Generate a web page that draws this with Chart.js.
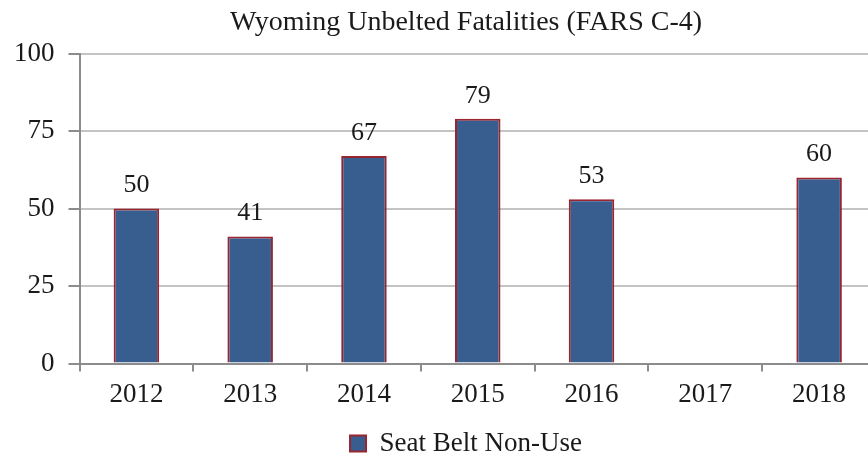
<!DOCTYPE html>
<html>
<head>
<meta charset="utf-8">
<script src="https://cdn.jsdelivr.net/npm/chart.js@4/dist/chart.umd.min.js"></script>
<style>
  html, body { margin: 0; padding: 0; background: #fff; overflow: hidden; }
  #wrap { position: relative; width: 932px; height: 467px; }
</style>
</head>
<body>
<div id="wrap"><canvas id="chart"></canvas></div>
<script>
// Daten
const years = ['2012', '2013', '2014', '2015', '2016', '2017', '2018'];
const unbelted = [50, 41, 67, 79, 53, null, 60];
const yTicks = [0, 25, 50, 75, 100];

const fontFamily = '"Liberation Serif", "Times New Roman", serif';

// Werte über den Balken zeichnen
const barLabels = {
    id: 'barLabels',
    afterDatasetsDraw(chart) {
        const ctx = chart.ctx;
        const meta = chart.getDatasetMeta(0);
        ctx.save();
        ctx.font = '26px ' + fontFamily;
        ctx.fillStyle = '#1a1a1a';
        ctx.textAlign = 'center';
        ctx.textBaseline = 'bottom';
        meta.data.forEach((bar, i) => {
            const v = chart.data.datasets[0].data[i];
            if (v === null) return;
            ctx.fillText(String(v), bar.x, bar.y - 10);
        });
        ctx.restore();
    }
};

new Chart(document.getElementById('chart'), {
    type: 'bar',
    data: {
        labels: years,
        datasets: [{
            label: 'Seat Belt Non-Use',
            data: unbelted,
            backgroundColor: '#375e8f',
            borderColor: '#9a2430',
            borderWidth: 2,
            categoryPercentage: 0.4,
            barPercentage: 1.0
        }]
    },
    options: {
        responsive: true,
        maintainAspectRatio: false,
        animation: false,
        layout: {
            padding: { top: 6, right: 0, left: 0, bottom: 0 }
        },
        plugins: {
            title: {
                display: true,
                text: 'Wyoming Unbelted Fatalities (FARS C-4)',
                color: '#1a1a1a',
                font: { family: fontFamily, size: 28, weight: 'normal' },
                padding: { top: 0, bottom: 14 }
            },
            legend: {
                display: true,
                position: 'bottom',
                labels: {
                    color: '#1a1a1a',
                    font: { family: fontFamily, size: 27 },
                    boxWidth: 16,
                    boxHeight: 16,
                    padding: 12
                }
            },
            tooltip: { enabled: false }
        },
        scales: {
            x: {
                offset: true,
                grid: {
                    display: true,
                    drawOnChartArea: false,
                    offset: true,
                    tickLength: 8,
                    color: '#8c8c8c',
                    lineWidth: 2
                },
                border: { color: '#8c8c8c', width: 2 },
                ticks: {
                    color: '#1a1a1a',
                    font: { family: fontFamily, size: 27 },
                    padding: 7
                }
            },
            y: {
                min: 0,
                max: 100,
                afterBuildTicks(axis) {
                    axis.ticks = yTicks.map(v => ({ value: v }));
                },
                grid: {
                    color: '#c4c4c4',
                    lineWidth: 2,
                    tickLength: 11,
                    tickColor: '#8c8c8c'
                },
                border: { color: '#8c8c8c', width: 2 },
                ticks: {
                    color: '#1a1a1a',
                    font: { family: fontFamily, size: 27 },
                    padding: 14
                }
            },
            // leere rechte Achse als Platzhalter (Diagramm ist rechts angeschnitten)
            yRight: {
                position: 'right',
                display: true,
                grid: { display: false },
                border: { display: false },
                ticks: { display: false },
                afterFit(axis) {
                    axis.width = 56;
                }
            }
        }
    },
    plugins: [barLabels]
});
</script>
</body>
</html>
